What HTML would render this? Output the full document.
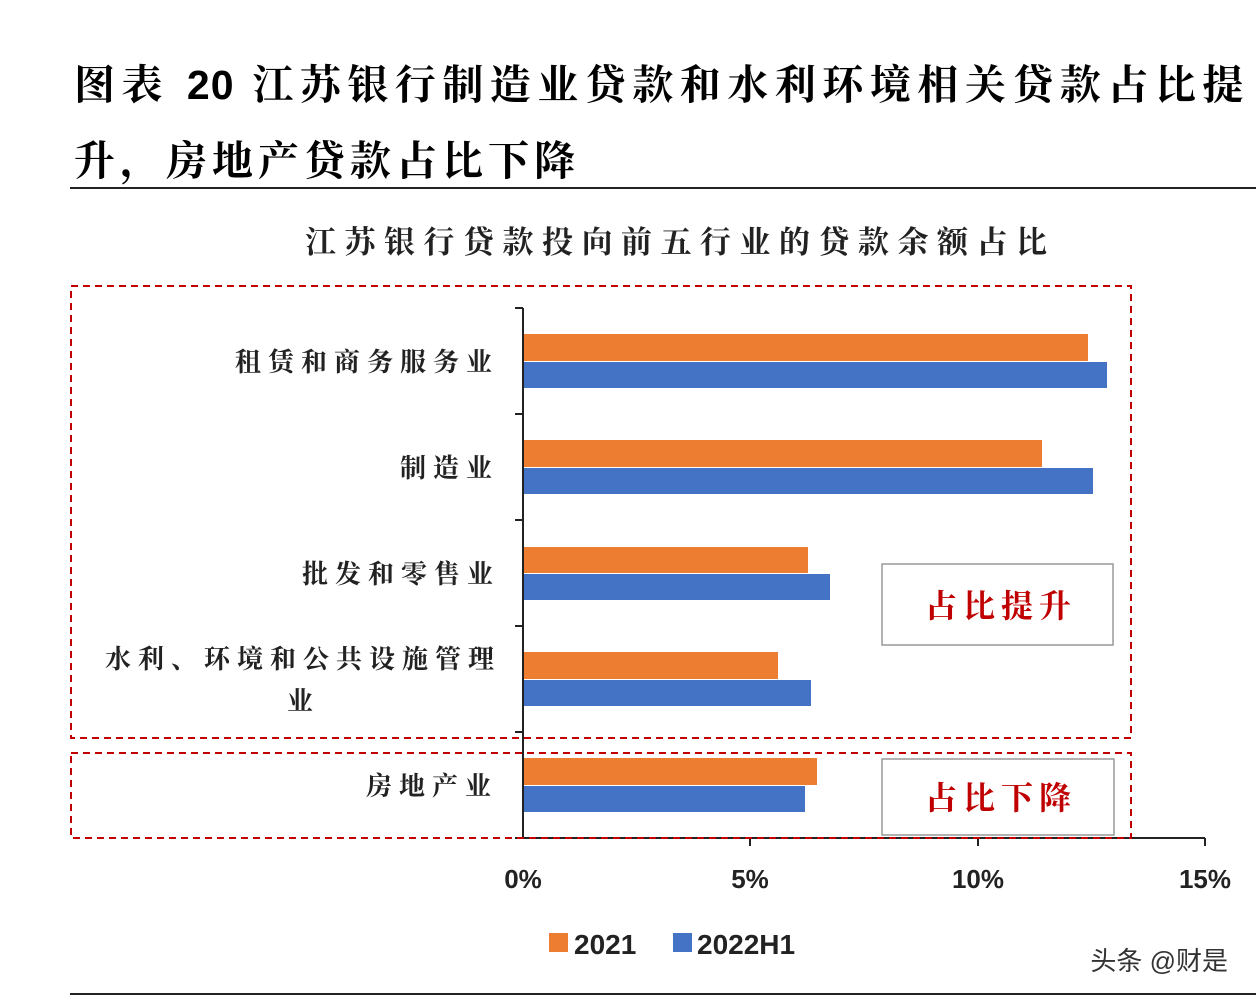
<!DOCTYPE html>
<html><head><meta charset="utf-8"><style>
body{margin:0;width:1256px;height:1004px;background:#fff;overflow:hidden;position:relative;font-family:"Liberation Sans","Noto Serif CJK SC",serif}
.t{position:absolute;white-space:nowrap}
</style></head><body>
<div class="t" style="left:74px;top:52px;font-size:41px;font-weight:bold;font-family:'Liberation Sans','Noto Serif CJK SC',serif;letter-spacing:6.5px">图表 <span style="letter-spacing:1px">20</span> 江苏银行制造业贷款和水利环境相关贷款占比提</div>
<div class="t" style="left:74px;top:128px;font-size:41px;font-weight:bold;font-family:'Liberation Sans','Noto Serif CJK SC',serif;letter-spacing:5px">升，房地产贷款占比下降</div>
<div style="position:absolute;left:70px;top:187px;width:1186px;height:2px;background:#222"></div>
<div style="position:absolute;left:70px;top:993px;width:1186px;height:2px;background:#222"></div>
<svg width="1256" height="1004" style="position:absolute;left:0;top:0" font-family="'Liberation Sans','Noto Serif CJK SC',serif">
<text x="305" y="253" font-size="31" letter-spacing="8.5" fill="#222" font-weight="bold">江苏银行贷款投向前五行业的贷款余额占比</text>
<g fill="#ED7D31">
<rect x="524" y="334" width="564" height="27"/>
<rect x="524" y="440" width="518" height="27"/>
<rect x="524" y="547" width="284" height="26"/>
<rect x="524" y="652" width="254" height="27"/>
<rect x="524" y="758" width="293" height="27"/>
</g>
<g fill="#4472C4">
<rect x="524" y="362" width="583" height="26"/>
<rect x="524" y="468" width="569" height="26"/>
<rect x="524" y="574" width="306" height="26"/>
<rect x="524" y="680" width="287" height="26"/>
<rect x="524" y="786" width="281" height="26"/>
</g>
<g stroke="#222" stroke-width="2">
<line x1="523" y1="308" x2="523" y2="839"/>
<line x1="523" y1="838" x2="1205" y2="838"/>
<line x1="515" y1="308" x2="523" y2="308"/><line x1="515" y1="414" x2="523" y2="414"/><line x1="515" y1="520" x2="523" y2="520"/><line x1="515" y1="626" x2="523" y2="626"/><line x1="515" y1="732" x2="523" y2="732"/><line x1="515" y1="838" x2="523" y2="838"/>
<line x1="750" y1="838" x2="750" y2="846"/><line x1="978" y1="838" x2="978" y2="846"/><line x1="1205" y1="838" x2="1205" y2="846"/>
</g>
<g font-size="26" font-weight="bold" fill="#222" text-anchor="middle">
<text x="523" y="888">0%</text><text x="750" y="888">5%</text><text x="978" y="888">10%</text><text x="1205" y="888">15%</text>
</g>
<g font-size="26" fill="#222" font-weight="bold" letter-spacing="7">
<text x="235" y="371">租赁和商务服务业</text>
<text x="400" y="477">制造业</text>
<text x="302" y="583">批发和零售业</text>
<text x="105" y="668">水利、环境和公共设施管理</text>
<text x="287" y="710">业</text>
<text x="366" y="795">房地产业</text>
</g>
<g fill="none" stroke="#C00000" stroke-width="2" stroke-dasharray="7,5">
<rect x="71" y="286" width="1060" height="452"/>
<rect x="71" y="753" width="1060" height="85"/>
</g>
<g fill="#fff" stroke="#999" stroke-width="1.5">
<rect x="882" y="564" width="231" height="81"/>
<rect x="882" y="759" width="232" height="76"/>
</g>
<g font-size="32" font-weight="bold" fill="#C00000" letter-spacing="6">
<text x="925" y="617">占比提升</text>
<text x="925" y="809">占比下降</text>
</g>
<rect x="549" y="933" width="19" height="19" fill="#ED7D31"/>
<text x="574" y="954" font-size="28" font-weight="bold" fill="#222">2021</text>
<rect x="673" y="933" width="19" height="19" fill="#4472C4"/>
<text x="697" y="954" font-size="28" font-weight="bold" fill="#222">2022H1</text>
<text x="1228" y="970" font-size="26" fill="#333" text-anchor="end" font-family="'Liberation Sans','Noto Sans CJK SC',sans-serif">头条 @财是</text>
</svg>
</body></html>
